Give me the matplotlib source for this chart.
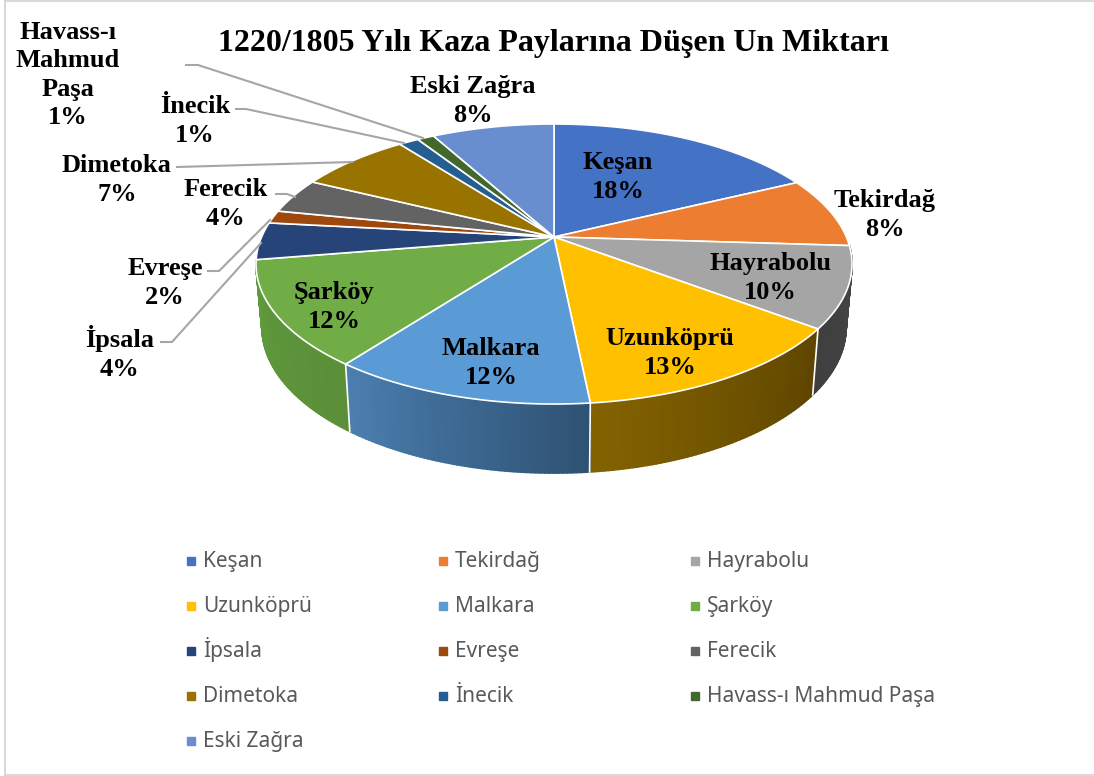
import numpy as np
import matplotlib
matplotlib.use('Agg')
import matplotlib.pyplot as plt
from matplotlib.patches import Polygon, Rectangle
from matplotlib.collections import PolyCollection

# slice sizes, labels are what the chart prints
names = ['Keşan', 'Tekirdağ', 'Hayrabolu', 'Uzunköprü', 'Malkara', 'Şarköy', 'İpsala',
         'Evreşe', 'Ferecik', 'Dimetoka', 'İnecik', 'Havass-ı Mahmud Paşa', 'Eski Zağra']
label_names = ['Keşan', 'Tekirdağ', 'Hayrabolu', 'Uzunköprü', 'Malkara', 'Şarköy', 'İpsala',
               'Evreşe', 'Ferecik', 'Dimetoka', 'İnecik', 'Havass-ı\nMahmud\nPaşa', 'Eski Zağra']
shares = [17.8, 8.2, 9.3, 13.1, 11.9, 12.1, 4.3, 1.5, 4.1, 7.3, 1.3, 1.1, 8.0]
percents = [18, 8, 10, 13, 12, 12, 4, 2, 4, 7, 1, 1, 8]
colors = ['#4472C4', '#ED7D31', '#A5A5A5', '#FFC000', '#5B9BD5', '#70AD47', '#264478',
          '#9E480E', '#636363', '#997300', '#255E91', '#43682B', '#698ED0']
wall_left = {2: '#3f3f3f', 3: '#836200', 4: '#4b7fb0', 5: '#5f9a3d'}
wall_right = {2: '#474747', 3: '#5e4500', 4: '#2f5273', 5: '#5b8f39'}

label_pos = [(618, 177), (885, 215), (770, 278), (670, 353), (491, 363), (334, 307), (120, 353),
             (165, 283), (226, 204), (117, 180), (195, 121), (68, 75), (473, 101)]
leaders = {
    6: [(161, 342), (172, 342), (261, 243)],
    7: [(208, 271), (219, 271), (270, 220)],
    8: [(276, 194), (287, 194), (295, 197)],
    9: [(177, 167), (352, 162)],
    10: [(236, 109), (246, 109), (404, 143)],
    11: [(186, 65), (198, 65), (423, 138)],
}

cx, cy = 554, 237
a, b, k = 292.4, 134.8, 0.193


def rim(theta):
    # tilted circle, theta clockwise from the top, near side drawn larger
    w = 1 + k * np.cos(theta)
    return cx + a * np.sin(theta) / w, cy - b * np.cos(theta) / w


def lower(x, y):
    return cx + (x - cx) * 0.98, cy + (y - cy) * 1.042 + 62


fig = plt.figure(figsize=(10.94, 7.76), dpi=100)
ax = fig.add_axes([0, 0, 1, 1])
ax.set_xlim(0, 1094)
ax.set_ylim(776, 0)
ax.axis('off')

ax.add_patch(Rectangle((5, 1), 1200, 774, fc='white', ec='#d9d9d9', lw=1.5))

edges = np.radians(np.concatenate([[0], np.cumsum(shares)]) * 3.6)

# side wall first, the top covers whatever is behind it
for i in wall_left:
    ts = np.linspace(edges[i], edges[i + 1], 60)
    xs, ys = rim(ts)
    xb, yb = lower(xs, ys)
    c_r = np.array(matplotlib.colors.to_rgb(wall_right[i]))
    c_l = np.array(matplotlib.colors.to_rgb(wall_left[i]))
    quads, cols = [], []
    for j in range(59):
        quads.append([(xs[j], ys[j]), (xs[j + 1], ys[j + 1]), (xb[j + 1], yb[j + 1]), (xb[j], yb[j])])
        f = j / 58
        cols.append(c_r * (1 - f) + c_l * f)
    ax.add_collection(PolyCollection(quads, facecolors=cols, edgecolors=cols, linewidths=1.2, zorder=2))
    # white seams only between walls, not on the outer silhouette
    if i != 2:
        ax.plot([xs[0], xb[0]], [ys[0], yb[0]], color='white', lw=1.2, zorder=3)

for i in range(13):
    ts = np.linspace(edges[i], edges[i + 1], 80)
    xs, ys = rim(ts)
    pts = np.column_stack([np.r_[cx, xs], np.r_[cy, ys]])
    ax.add_patch(Polygon(pts, closed=True, fc=colors[i], ec='white', lw=1.2, zorder=4, joinstyle='round'))

for i, pts in leaders.items():
    ax.plot([p[0] for p in pts], [p[1] for p in pts], color='#a6a6a6', lw=1.5, zorder=5)

for i in range(13):
    ax.text(label_pos[i][0], label_pos[i][1], f'{label_names[i]}\n{percents[i]}%',
            ha='center', va='center', family='Liberation Serif', weight='bold',
            fontsize=19, linespacing=1.29, color='black', zorder=6)

ax.text(554, 43, '1220/1805 Yılı Kaza Paylarına Düşen Un Miktarı', ha='center', va='center',
        family='Liberation Serif', weight='bold', fontsize=23, color='black', zorder=6)

# legend grid, row by row, three columns
for n, name in enumerate(names):
    col, row = n % 3, n // 3
    lx = 191 + 252 * col
    ly = 561 + 45 * row
    ax.plot([lx], [ly], ls='none', marker='s', ms=5.8, color=colors[n])
    ax.text(lx + 12, ly + 6, name, ha='left', va='baseline', family='Noto Sans',
            fontsize=15, color='#595959')

fig.savefig('out.png', dpi=100)
